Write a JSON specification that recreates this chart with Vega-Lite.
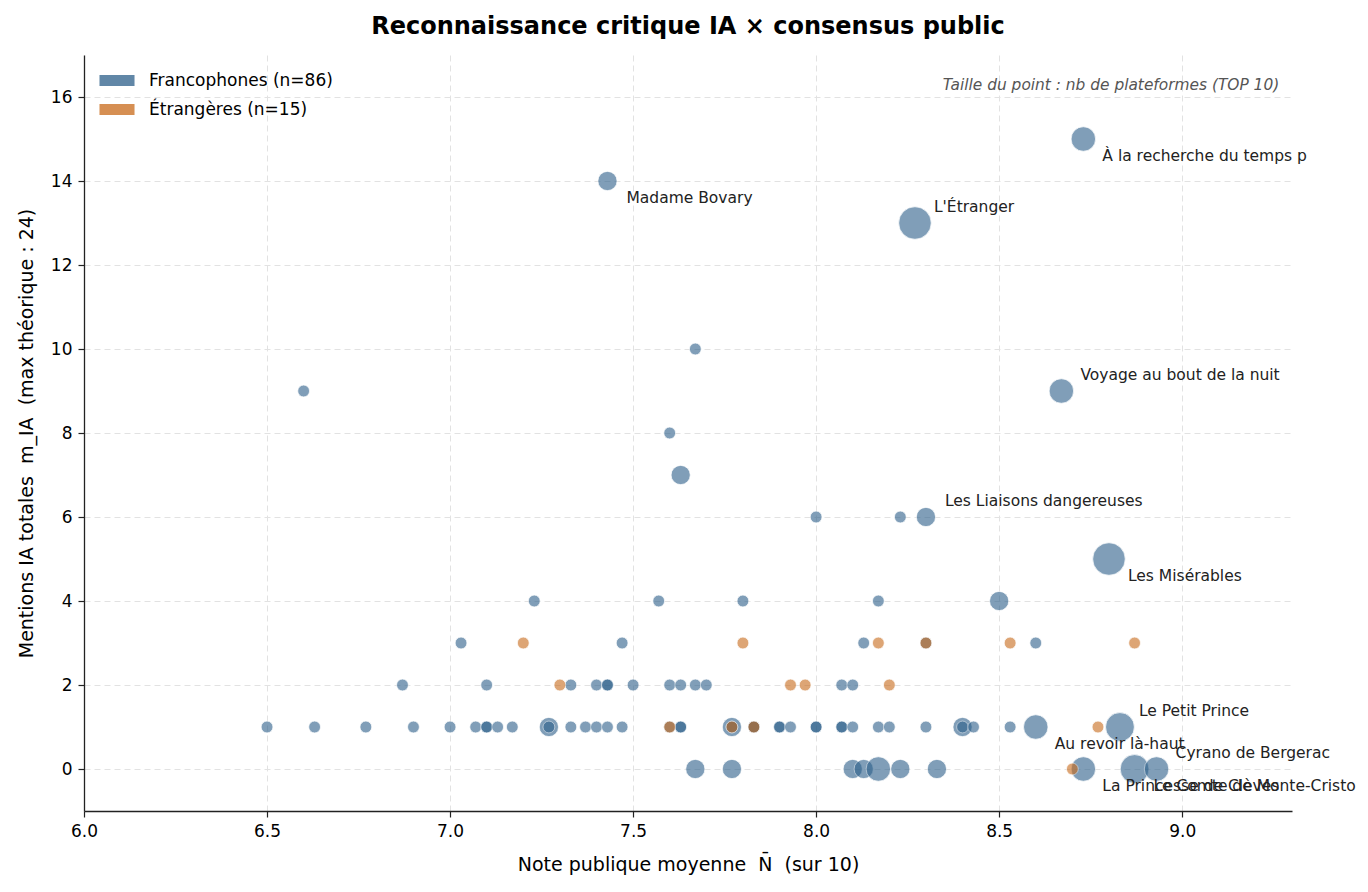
{
  "$schema": "https://vega.github.io/schema/vega-lite/v6.json",
  "width": 1208,
  "height": 756,
  "autosize": {"type": "none"},
  "padding": {"left": 84, "top": 55, "right": 76, "bottom": 81},
  "background": "white",
  "title": {
    "text": "Reconnaissance critique IA × consensus public",
    "font": "DejaVu Sans",
    "fontSize": 24,
    "fontWeight": "bold",
    "color": "#000",
    "anchor": "middle",
    "offset": 16
  },
  "config": {
    "font": "DejaVu Sans",
    "view": {"stroke": null},
    "axis": {
      "labelFont": "DejaVu Sans",
      "titleFont": "DejaVu Sans",
      "labelFontSize": 17,
      "titleFontSize": 19,
      "titleFontWeight": "normal",
      "labelColor": "#000",
      "titleColor": "#000",
      "domainColor": "#222",
      "domainWidth": 1.3,
      "tickColor": "#222",
      "tickWidth": 1.2,
      "tickSize": 6,
      "labelPadding": 6,
      "labelFlush": false,
      "labelOverlap": false,
      "grid": true,
      "gridColor": "#e2e2e2",
      "gridWidth": 1,
      "gridDash": [6, 4]
    }
  },
  "datasets": {
    "livres": [
      {"titre": "À la recherche du temps perdu", "note": 8.73, "mentions": 15, "groupe": "Francophones", "plateformes": 2, "etiquette": "À la recherche du temps p", "position": "bas"},
      {"titre": "Madame Bovary", "note": 7.43, "mentions": 14, "groupe": "Francophones", "plateformes": 1, "etiquette": "Madame Bovary", "position": "bas"},
      {"titre": "L'Étranger", "note": 8.27, "mentions": 13, "groupe": "Francophones", "plateformes": 4, "etiquette": "L'Étranger", "position": "haut"},
      {"note": 7.67, "mentions": 10, "groupe": "Francophones", "plateformes": 0},
      {"note": 6.6, "mentions": 9, "groupe": "Francophones", "plateformes": 0},
      {"titre": "Voyage au bout de la nuit", "note": 8.67, "mentions": 9, "groupe": "Francophones", "plateformes": 2, "etiquette": "Voyage au bout de la nuit", "position": "haut"},
      {"note": 7.6, "mentions": 8, "groupe": "Francophones", "plateformes": 0},
      {"note": 7.63, "mentions": 7, "groupe": "Francophones", "plateformes": 1},
      {"note": 8.0, "mentions": 6, "groupe": "Francophones", "plateformes": 0},
      {"note": 8.23, "mentions": 6, "groupe": "Francophones", "plateformes": 0},
      {"titre": "Les Liaisons dangereuses", "note": 8.3, "mentions": 6, "groupe": "Francophones", "plateformes": 1, "etiquette": "Les Liaisons dangereuses", "position": "haut"},
      {"titre": "Les Misérables", "note": 8.8, "mentions": 5, "groupe": "Francophones", "plateformes": 4, "etiquette": "Les Misérables", "position": "bas"},
      {"note": 7.23, "mentions": 4, "groupe": "Francophones", "plateformes": 0},
      {"note": 7.57, "mentions": 4, "groupe": "Francophones", "plateformes": 0},
      {"note": 7.8, "mentions": 4, "groupe": "Francophones", "plateformes": 0},
      {"note": 8.17, "mentions": 4, "groupe": "Francophones", "plateformes": 0},
      {"note": 8.5, "mentions": 4, "groupe": "Francophones", "plateformes": 1},
      {"note": 7.03, "mentions": 3, "groupe": "Francophones", "plateformes": 0},
      {"note": 7.47, "mentions": 3, "groupe": "Francophones", "plateformes": 0},
      {"note": 8.13, "mentions": 3, "groupe": "Francophones", "plateformes": 0},
      {"note": 8.3, "mentions": 3, "groupe": "Francophones", "plateformes": 0},
      {"note": 8.6, "mentions": 3, "groupe": "Francophones", "plateformes": 0},
      {"note": 6.87, "mentions": 2, "groupe": "Francophones", "plateformes": 0},
      {"note": 7.1, "mentions": 2, "groupe": "Francophones", "plateformes": 0},
      {"note": 7.33, "mentions": 2, "groupe": "Francophones", "plateformes": 0},
      {"note": 7.4, "mentions": 2, "groupe": "Francophones", "plateformes": 0},
      {"note": 7.43, "mentions": 2, "groupe": "Francophones", "plateformes": 0},
      {"note": 7.43, "mentions": 2, "groupe": "Francophones", "plateformes": 0},
      {"note": 7.5, "mentions": 2, "groupe": "Francophones", "plateformes": 0},
      {"note": 7.6, "mentions": 2, "groupe": "Francophones", "plateformes": 0},
      {"note": 7.63, "mentions": 2, "groupe": "Francophones", "plateformes": 0},
      {"note": 7.67, "mentions": 2, "groupe": "Francophones", "plateformes": 0},
      {"note": 7.7, "mentions": 2, "groupe": "Francophones", "plateformes": 0},
      {"note": 8.07, "mentions": 2, "groupe": "Francophones", "plateformes": 0},
      {"note": 8.1, "mentions": 2, "groupe": "Francophones", "plateformes": 0},
      {"note": 6.5, "mentions": 1, "groupe": "Francophones", "plateformes": 0},
      {"note": 6.63, "mentions": 1, "groupe": "Francophones", "plateformes": 0},
      {"note": 6.77, "mentions": 1, "groupe": "Francophones", "plateformes": 0},
      {"note": 6.9, "mentions": 1, "groupe": "Francophones", "plateformes": 0},
      {"note": 7.0, "mentions": 1, "groupe": "Francophones", "plateformes": 0},
      {"note": 7.07, "mentions": 1, "groupe": "Francophones", "plateformes": 0},
      {"note": 7.1, "mentions": 1, "groupe": "Francophones", "plateformes": 0},
      {"note": 7.1, "mentions": 1, "groupe": "Francophones", "plateformes": 0},
      {"note": 7.13, "mentions": 1, "groupe": "Francophones", "plateformes": 0},
      {"note": 7.17, "mentions": 1, "groupe": "Francophones", "plateformes": 0},
      {"note": 7.27, "mentions": 1, "groupe": "Francophones", "plateformes": 1},
      {"note": 7.27, "mentions": 1, "groupe": "Francophones", "plateformes": 0},
      {"note": 7.33, "mentions": 1, "groupe": "Francophones", "plateformes": 0},
      {"note": 7.37, "mentions": 1, "groupe": "Francophones", "plateformes": 0},
      {"note": 7.4, "mentions": 1, "groupe": "Francophones", "plateformes": 0},
      {"note": 7.43, "mentions": 1, "groupe": "Francophones", "plateformes": 0},
      {"note": 7.47, "mentions": 1, "groupe": "Francophones", "plateformes": 0},
      {"note": 7.6, "mentions": 1, "groupe": "Francophones", "plateformes": 0},
      {"note": 7.63, "mentions": 1, "groupe": "Francophones", "plateformes": 0},
      {"note": 7.63, "mentions": 1, "groupe": "Francophones", "plateformes": 0},
      {"note": 7.77, "mentions": 1, "groupe": "Francophones", "plateformes": 1},
      {"note": 7.77, "mentions": 1, "groupe": "Francophones", "plateformes": 0},
      {"note": 7.83, "mentions": 1, "groupe": "Francophones", "plateformes": 0},
      {"note": 7.83, "mentions": 1, "groupe": "Francophones", "plateformes": 0},
      {"note": 7.9, "mentions": 1, "groupe": "Francophones", "plateformes": 0},
      {"note": 7.9, "mentions": 1, "groupe": "Francophones", "plateformes": 0},
      {"note": 7.93, "mentions": 1, "groupe": "Francophones", "plateformes": 0},
      {"note": 8.0, "mentions": 1, "groupe": "Francophones", "plateformes": 0},
      {"note": 8.0, "mentions": 1, "groupe": "Francophones", "plateformes": 0},
      {"note": 8.07, "mentions": 1, "groupe": "Francophones", "plateformes": 0},
      {"note": 8.07, "mentions": 1, "groupe": "Francophones", "plateformes": 0},
      {"note": 8.1, "mentions": 1, "groupe": "Francophones", "plateformes": 0},
      {"note": 8.17, "mentions": 1, "groupe": "Francophones", "plateformes": 0},
      {"note": 8.2, "mentions": 1, "groupe": "Francophones", "plateformes": 0},
      {"note": 8.3, "mentions": 1, "groupe": "Francophones", "plateformes": 0},
      {"note": 8.4, "mentions": 1, "groupe": "Francophones", "plateformes": 1},
      {"note": 8.4, "mentions": 1, "groupe": "Francophones", "plateformes": 0},
      {"note": 8.43, "mentions": 1, "groupe": "Francophones", "plateformes": 0},
      {"note": 8.53, "mentions": 1, "groupe": "Francophones", "plateformes": 0},
      {"titre": "Au revoir là-haut", "note": 8.6, "mentions": 1, "groupe": "Francophones", "plateformes": 2, "etiquette": "Au revoir là-haut", "position": "bas"},
      {"titre": "Le Petit Prince", "note": 8.83, "mentions": 1, "groupe": "Francophones", "plateformes": 3, "etiquette": "Le Petit Prince", "position": "haut"},
      {"note": 7.67, "mentions": 0, "groupe": "Francophones", "plateformes": 1},
      {"note": 7.77, "mentions": 0, "groupe": "Francophones", "plateformes": 1},
      {"note": 8.1, "mentions": 0, "groupe": "Francophones", "plateformes": 1},
      {"note": 8.13, "mentions": 0, "groupe": "Francophones", "plateformes": 1},
      {"note": 8.17, "mentions": 0, "groupe": "Francophones", "plateformes": 2},
      {"note": 8.23, "mentions": 0, "groupe": "Francophones", "plateformes": 1},
      {"note": 8.33, "mentions": 0, "groupe": "Francophones", "plateformes": 1},
      {"titre": "La Princesse de Clèves", "note": 8.73, "mentions": 0, "groupe": "Francophones", "plateformes": 2, "etiquette": "La Princesse de Clèves", "position": "bas"},
      {"titre": "Le Comte de Monte-Cristo", "note": 8.87, "mentions": 0, "groupe": "Francophones", "plateformes": 3, "etiquette": "Le Comte de Monte-Cristo", "position": "bas"},
      {"titre": "Cyrano de Bergerac", "note": 8.93, "mentions": 0, "groupe": "Francophones", "plateformes": 2, "etiquette": "Cyrano de Bergerac", "position": "haut"},
      {"note": 7.2, "mentions": 3, "groupe": "Étrangères", "plateformes": 0},
      {"note": 7.8, "mentions": 3, "groupe": "Étrangères", "plateformes": 0},
      {"note": 8.17, "mentions": 3, "groupe": "Étrangères", "plateformes": 0},
      {"note": 8.3, "mentions": 3, "groupe": "Étrangères", "plateformes": 0},
      {"note": 8.53, "mentions": 3, "groupe": "Étrangères", "plateformes": 0},
      {"note": 8.87, "mentions": 3, "groupe": "Étrangères", "plateformes": 0},
      {"note": 7.3, "mentions": 2, "groupe": "Étrangères", "plateformes": 0},
      {"note": 7.93, "mentions": 2, "groupe": "Étrangères", "plateformes": 0},
      {"note": 7.97, "mentions": 2, "groupe": "Étrangères", "plateformes": 0},
      {"note": 8.2, "mentions": 2, "groupe": "Étrangères", "plateformes": 0},
      {"note": 7.6, "mentions": 1, "groupe": "Étrangères", "plateformes": 0},
      {"note": 7.77, "mentions": 1, "groupe": "Étrangères", "plateformes": 0},
      {"note": 7.83, "mentions": 1, "groupe": "Étrangères", "plateformes": 0},
      {"note": 8.77, "mentions": 1, "groupe": "Étrangères", "plateformes": 0},
      {"note": 8.7, "mentions": 0, "groupe": "Étrangères", "plateformes": 0}
    ],
    "annotation": [
      {"note": 9.265, "mentions": 16.28, "texte": "Taille du point : nb de plateformes (TOP 10)"}
    ]
  },
  "data": {"name": "livres"},
  "encoding": {
    "x": {
      "field": "note",
      "type": "quantitative",
      "scale": {"domain": [6.0, 9.3], "nice": false, "zero": false},
      "axis": {
        "title": "Note publique moyenne\u00a0\u00a0N̄\u00a0\u00a0(sur 10)",
        "values": [6.0, 6.5, 7.0, 7.5, 8.0, 8.5, 9.0],
        "format": ".1f",
        "titlePadding": 16
      }
    },
    "y": {
      "field": "mentions",
      "type": "quantitative",
      "scale": {"domain": [-1, 17], "nice": false, "zero": false},
      "axis": {
        "title": "Mentions IA totales\u00a0\u00a0m_IA\u00a0\u00a0(max théorique : 24)",
        "values": [0, 2, 4, 6, 8, 10, 12, 14, 16],
        "titlePadding": 14
      }
    }
  },
  "layer": [
    {
      "mark": {"type": "point", "filled": true, "opacity": 0.6, "stroke": "white", "strokeWidth": 0.8, "strokeOpacity": 0.9},
      "encoding": {
        "color": {
          "field": "groupe",
          "type": "nominal",
          "scale": {"domain": ["Francophones", "Étrangères"], "range": ["#2c5f8a", "#c86a1a"]},
          "legend": {
            "title": null,
            "orient": "none",
            "legendX": 24.5,
            "legendY": 17,
            "padding": 0,
            "symbolType": "M-2.92,-0.92H2.92V0.92H-2.92Z",
            "symbolSize": 144,
            "symbolOpacity": 0.75,
            "symbolStrokeWidth": 0,
            "labelFontSize": 17,
            "labelFont": "DejaVu Sans",
            "labelColor": "#000",
            "labelOffset": 23.5,
            "labelLimit": 400,
            "rowPadding": 11,
            "labelExpr": "datum.label == 'Francophones' ? 'Francophones (n=86)' : 'Étrangères (n=15)'"
          }
        },
        "size": {
          "field": "plateformes",
          "type": "quantitative",
          "scale": {"domain": [0, 4], "range": [140, 1060], "zero": false},
          "legend": null
        }
      }
    },
    {
      "transform": [{"filter": "datum.position == 'haut'"}],
      "mark": {"type": "text", "align": "left", "baseline": "middle", "dx": 19, "dy": -16.5, "fontSize": 15.5, "font": "DejaVu Sans", "color": "#222"},
      "encoding": {"text": {"field": "etiquette"}}
    },
    {
      "transform": [{"filter": "datum.position == 'bas'"}],
      "mark": {"type": "text", "align": "left", "baseline": "middle", "dx": 19, "dy": 17, "fontSize": 15.5, "font": "DejaVu Sans", "color": "#222"},
      "encoding": {"text": {"field": "etiquette"}}
    },
    {
      "data": {"name": "annotation"},
      "mark": {"type": "text", "align": "right", "baseline": "middle", "fontSize": 15.4, "font": "DejaVu Sans", "fontStyle": "italic", "color": "#555"},
      "encoding": {"text": {"field": "texte"}}
    }
  ]
}
